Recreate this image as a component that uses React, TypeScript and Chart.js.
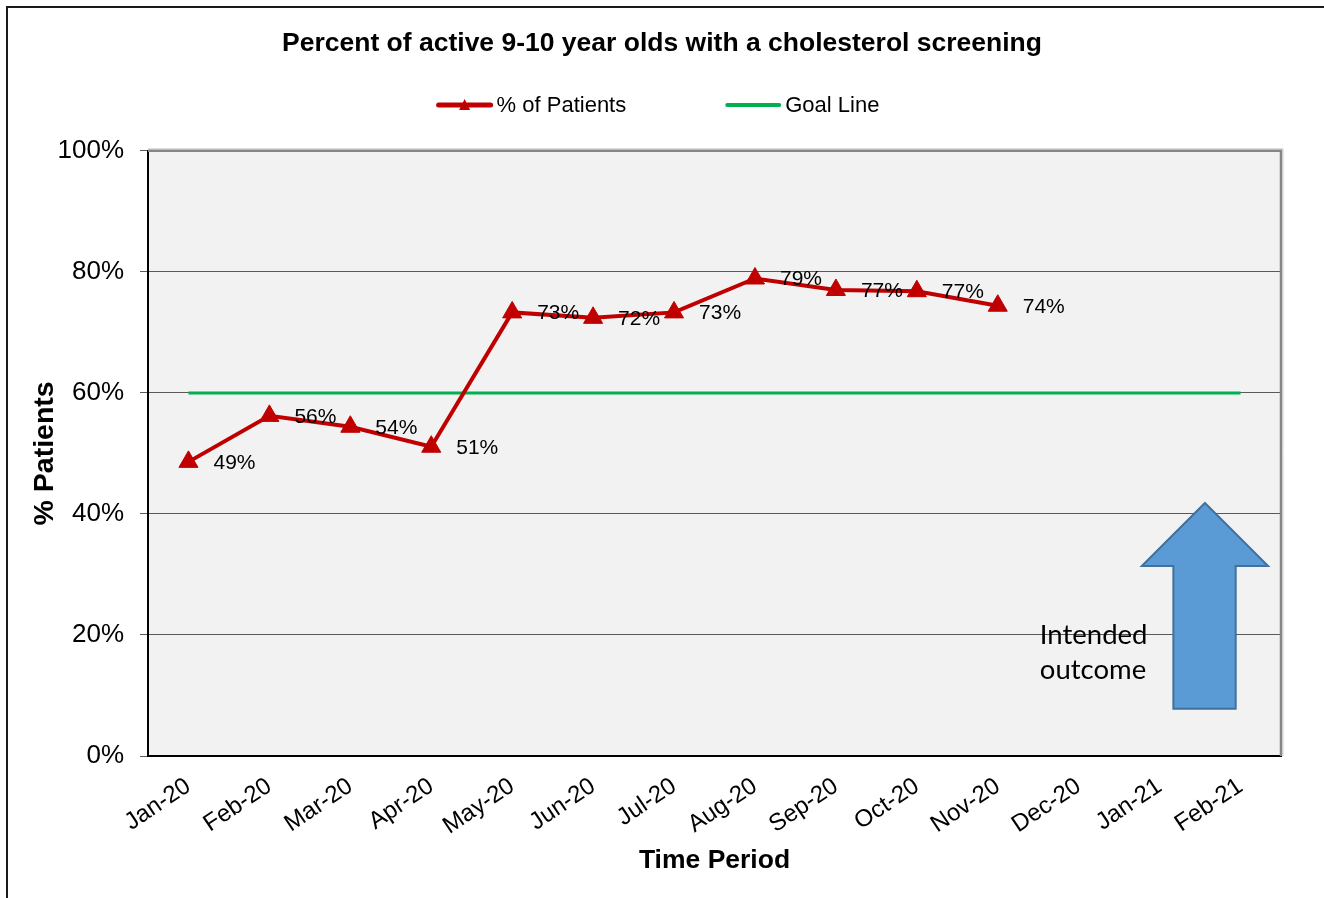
import React, { useEffect, useRef } from 'react';
import { Chart, registerables } from 'chart.js';

Chart.register(...registerables);

// ---- data ----
const months = ['Jan-20', 'Feb-20', 'Mar-20', 'Apr-20', 'May-20', 'Jun-20', 'Jul-20', 'Aug-20', 'Sep-20', 'Oct-20', 'Nov-20', 'Dec-20', 'Jan-21', 'Feb-21'];
const patientPct = [48.6, 56.2, 54.4, 51.1, 73.3, 72.4, 73.3, 78.9, 77.0, 76.8, 74.4, null, null, null];
const goalPct = [60, 60, 60, 60, 60, 60, 60, 60, 60, 60, 60, 60, 60, 60];
const yMin = 0;
const yMax = 100;
const yStep = 20;
const titleText = 'Percent of active 9-10 year olds with a cholesterol screening';
const seriesNames = ['% of Patients', 'Goal Line'];
const noteLines = ['Intended', 'outcome'];

// ---- annotation placement (in axis units) ----
const arrowShape = { tipX: 12.56, tipY: 41.8, headL: 11.78, headR: 13.34, headY: 31.4, shaftL: 12.17, shaftR: 12.94, bottomY: 7.8 };
const notePos = { x: 10.52, y1: 20.0, y2: 14.2 };

const FONT = '"Liberation Sans", Arial, sans-serif';
const RED = '#c00000';
const GREEN = '#00b050';

export default function App() {
  const ref = useRef<HTMLCanvasElement | null>(null);

  useEffect(() => {
    const canvas = ref.current;
    if (!canvas) return;

    const bgPlugin = {
      id: 'plotBg',
      beforeDraw(chart: any) {
        const { ctx, chartArea: a } = chart;
        ctx.save();
        ctx.fillStyle = '#ffffff';
        ctx.fillRect(0, 0, chart.width, chart.height);
        ctx.fillStyle = '#f2f2f2';
        ctx.fillRect(a.left, a.top, a.right - a.left, a.bottom - a.top);
        ctx.restore();
      },
      beforeDatasetsDraw(chart: any) {
        const { ctx, chartArea: a } = chart;
        ctx.save();
        ctx.strokeStyle = '#d0d0d0';
        ctx.lineWidth = 1;
        ctx.beginPath();
        ctx.moveTo(a.left, a.top - 2);
        ctx.lineTo(a.right + 2, a.top - 2);
        ctx.lineTo(a.right + 2, a.bottom);
        ctx.stroke();
        ctx.strokeStyle = '#868686';
        ctx.lineWidth = 2.5;
        ctx.beginPath();
        ctx.moveTo(a.left, a.top);
        ctx.lineTo(a.right, a.top);
        ctx.lineTo(a.right, a.bottom);
        ctx.stroke();
        ctx.restore();
      },
    };

    const labelPlugin = {
      id: 'valueLabels',
      afterDatasetsDraw(chart: any) {
        const { ctx } = chart;
        const meta = chart.getDatasetMeta(0);
        ctx.save();
        ctx.font = `21px ${FONT}`;
        ctx.fillStyle = '#000000';
        ctx.textAlign = 'left';
        ctx.textBaseline = 'middle';
        meta.data.forEach((pt: any, i: number) => {
          const v = patientPct[i];
          if (v === null || v === undefined) return;
          ctx.fillText(`${Math.round(v)}%`, pt.x + 25, pt.y + 1);
        });
        ctx.restore();
      },
    };

    const notePlugin = {
      id: 'outcomeNote',
      afterDatasetsDraw(chart: any) {
        const { ctx } = chart;
        const xs = chart.scales.x;
        const ys = chart.scales.y;
        const X = (v: number) => xs.getPixelForValue(v);
        const Y = (v: number) => ys.getPixelForValue(v);
        const s = arrowShape;
        ctx.save();
        ctx.beginPath();
        ctx.moveTo(X(s.tipX), Y(s.tipY));
        ctx.lineTo(X(s.headR), Y(s.headY));
        ctx.lineTo(X(s.shaftR), Y(s.headY));
        ctx.lineTo(X(s.shaftR), Y(s.bottomY));
        ctx.lineTo(X(s.shaftL), Y(s.bottomY));
        ctx.lineTo(X(s.shaftL), Y(s.headY));
        ctx.lineTo(X(s.headL), Y(s.headY));
        ctx.closePath();
        ctx.fillStyle = '#5b9bd5';
        ctx.fill();
        ctx.strokeStyle = '#41719c';
        ctx.lineWidth = 2;
        ctx.stroke();
        ctx.font = `27.5px Lato, "Open Sans", sans-serif`;
        ctx.fillStyle = '#000000';
        ctx.textAlign = 'left';
        ctx.textBaseline = 'middle';
        ctx.fillText(noteLines[0], X(notePos.x), Y(notePos.y1));
        ctx.fillText(noteLines[1], X(notePos.x), Y(notePos.y2));
        ctx.restore();
      },
    };

    const legendPlugin = {
      id: 'customLegend',
      afterDraw(chart: any) {
        const { ctx } = chart;
        ctx.save();
        ctx.font = `22px ${FONT}`;
        const lineLen = 56;
        const textGap = 4;
        const itemGap = 99;
        const w1 = ctx.measureText(seriesNames[0]).width;
        const w2 = ctx.measureText(seriesNames[1]).width;
        const total = lineLen + textGap + w1 + itemGap + lineLen + textGap + w2;
        let x = (chart.width - total) / 2 - 4;
        const y = 105;
        ctx.strokeStyle = RED;
        ctx.lineWidth = 5;
        ctx.lineCap = 'round';
        ctx.beginPath();
        ctx.moveTo(x + 2, y);
        ctx.lineTo(x + lineLen - 2, y);
        ctx.stroke();
        const cx = x + lineLen / 2;
        ctx.fillStyle = RED;
        ctx.beginPath();
        ctx.moveTo(cx, y - 6);
        ctx.lineTo(cx + 5.5, y + 5);
        ctx.lineTo(cx - 5.5, y + 5);
        ctx.closePath();
        ctx.fill();
        ctx.fillStyle = '#000000';
        ctx.textAlign = 'left';
        ctx.textBaseline = 'middle';
        ctx.fillText(seriesNames[0], x + lineLen + textGap, y + 1);
        x += lineLen + textGap + w1 + itemGap;
        ctx.strokeStyle = GREEN;
        ctx.lineWidth = 4;
        ctx.beginPath();
        ctx.moveTo(x + 2, y);
        ctx.lineTo(x + lineLen - 2, y);
        ctx.stroke();
        ctx.fillStyle = '#000000';
        ctx.fillText(seriesNames[1], x + lineLen + textGap, y + 1);
        ctx.restore();
      },
    };

    const framePlugin = {
      id: 'frame',
      afterDraw(chart: any) {
        const { ctx } = chart;
        ctx.save();
        ctx.strokeStyle = '#1a1a1a';
        ctx.lineWidth = 2;
        ctx.beginPath();
        ctx.moveTo(7, chart.height);
        ctx.lineTo(7, 7);
        ctx.lineTo(chart.width, 7);
        ctx.stroke();
        ctx.restore();
      },
    };

    const chart = new Chart(canvas, {
      type: 'line',
      data: {
        labels: months,
        datasets: [
          {
            label: seriesNames[0],
            data: patientPct,
            borderColor: RED,
            backgroundColor: RED,
            borderWidth: 4,
            pointStyle: 'triangle',
            pointRadius: 11,
            pointBackgroundColor: RED,
            pointBorderColor: RED,
            pointBorderWidth: 1,
            tension: 0,
            spanGaps: false,
            order: 0,
          },
          {
            label: seriesNames[1],
            data: goalPct,
            borderColor: GREEN,
            backgroundColor: GREEN,
            borderWidth: 3,
            pointRadius: 0,
            tension: 0,
            order: 1,
          },
        ],
      },
      options: {
        responsive: false,
        animation: false,
        events: [],
        layout: { padding: { left: 43, right: 43, top: 0, bottom: 0 } },
        plugins: {
          legend: { display: false },
          tooltip: { enabled: false },
          title: {
            display: true,
            text: titleText,
            color: '#000000',
            font: { family: FONT, size: 26.5, weight: 'bold', lineHeight: 1.2 },
            padding: { top: 28, bottom: 91 },
          },
        },
        scales: {
          x: {
            type: 'category',
            offset: true,
            grid: { display: false, drawTicks: false, offset: true },
            border: { display: true, color: '#000000', width: 2 },
            ticks: {
              color: '#000000',
              font: { family: FONT, size: 24 },
              minRotation: 34,
              maxRotation: 34,
              autoSkip: false,
              padding: 16,
            },
            title: {
              display: true,
              text: 'Time Period',
              color: '#000000',
              font: { family: FONT, size: 26.5, weight: 'bold', lineHeight: 1.2 },
              padding: { top: 0, bottom: 21 },
            },
            afterFit(scale: any) {
              scale.height = 142;
            },
          },
          y: {
            min: yMin,
            max: yMax,
            grid: { color: '#595959', lineWidth: 1, tickLength: 8, drawTicks: true },
            border: { display: true, color: '#000000', width: 2 },
            ticks: {
              stepSize: yStep,
              color: '#000000',
              font: { family: FONT, size: 26 },
              padding: 16,
              callback: (v: any) => `${v}%`,
            },
            title: {
              display: true,
              text: '% Patients',
              color: '#000000',
              font: { family: FONT, size: 28.5, weight: 'bold', lineHeight: 1.2 },
              padding: { top: -15, bottom: 0 },
            },
            afterFit(scale: any) {
              scale.width = 105;
            },
          },
        },
      },
      plugins: [bgPlugin, labelPlugin, notePlugin, legendPlugin, framePlugin],
    } as any);

    return () => chart.destroy();
  }, []);

  return (
    <div style={{ width: 1324, height: 898, position: 'absolute', left: 0, top: 0 }}>
      <style>{'body{margin:0;}'}</style>
      <canvas ref={ref} width={1324} height={898} style={{ display: 'block' }} />
    </div>
  );
}
